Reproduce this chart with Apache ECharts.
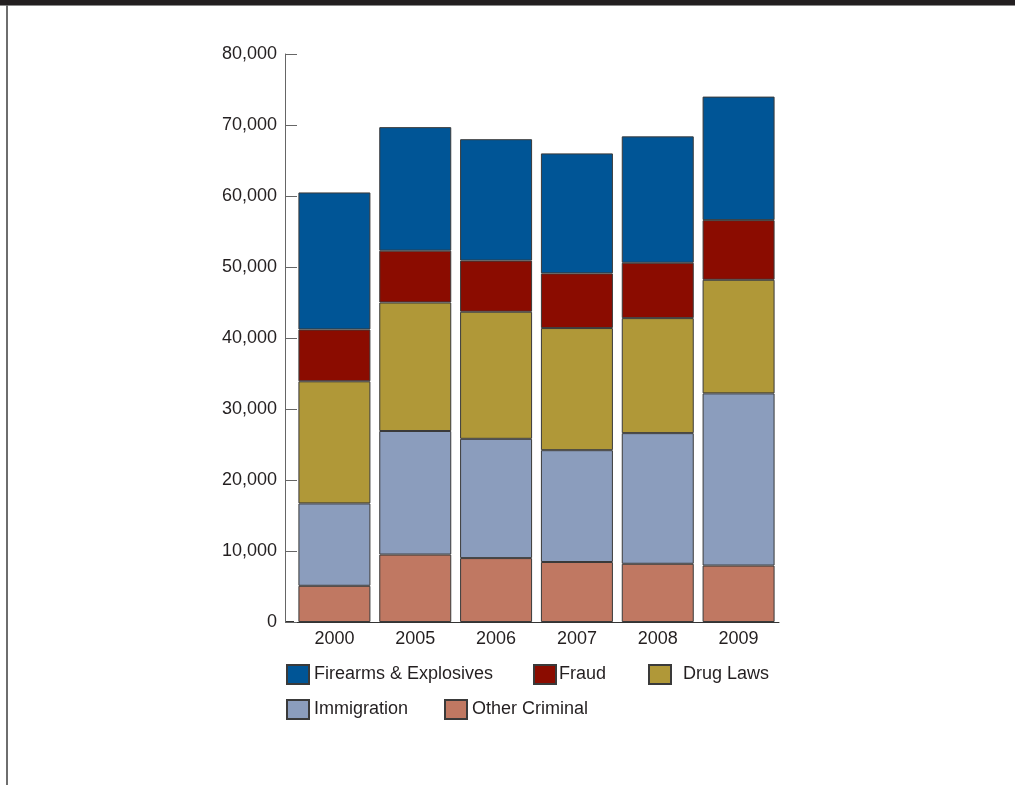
<!DOCTYPE html>
<html>
<head>
<meta charset="utf-8">
<script src="https://cdn.jsdelivr.net/npm/echarts@6/dist/echarts.min.js"></script>
<style>
html,body{margin:0;padding:0;background:#fff;}
#chart{width:1015px;height:785px;}
</style>
</head>
<body>
<div id="chart"></div>
<script>
var categories = ['2000', '2005', '2006', '2007', '2008', '2009'];
var otherCriminal = [5100, 9500, 9000, 8450, 8200, 7950];
var immigration = [11600, 17400, 16800, 15750, 18400, 24250];
var drugLaws = [17200, 18100, 17900, 17200, 16200, 16000];
var fraud = [7300, 7300, 7200, 7700, 7800, 8400];
var firearms = [19300, 17400, 17100, 16900, 17800, 17400];
var yTicks = { min: 0, max: 80000, interval: 10000 };

var FONT = '"Liberation Sans", Arial, Helvetica, sans-serif';
var TXT = '#231f20';
var BORDER = '#3a3a3a';

function mkSeries(name, data, color) {
  return {
    name: name, type: 'bar', stack: 'total', data: data,
    barWidth: 72,
    itemStyle: { color: color, borderColor: BORDER, borderWidth: 1 },
    emphasis: { disabled: true }
  };
}
function mkLegend(name, left, top, extraPad) {
  return {
    data: [name], left: left, top: top, padding: 0,
    itemWidth: 22, itemHeight: 19, icon: 'rect',
    textStyle: { fontFamily: FONT, fontSize: 18, color: TXT, padding: [5, 0, 0, extraPad || 0] },
    selectedMode: false
  };
}

var chart = echarts.init(document.getElementById('chart'));
chart.setOption({
  animation: false,
  backgroundColor: '#fff',
  grid: { left: 294, right: 1015 - 779, top: 54, bottom: 785 - 622, containLabel: false },
  xAxis: {
    type: 'category', data: categories,
    axisLine: { lineStyle: { color: '#333', width: 1 } },
    axisTick: { show: false },
    axisLabel: { fontFamily: FONT, fontSize: 18, color: TXT, margin: 8 }
  },
  yAxis: {
    type: 'value', min: yTicks.min, max: yTicks.max, interval: yTicks.interval,
    offset: 9,
    axisLine: { show: true, lineStyle: { color: '#666', width: 1 } },
    axisTick: { show: true, inside: true, length: 12, lineStyle: { color: '#666' } },
    splitLine: { show: false },
    axisLabel: {
      fontFamily: FONT, fontSize: 18, color: TXT, margin: 8, padding: [5, 0, 0, 0],
      formatter: function (v) { return String(v).replace(/\B(?=(\d{3})+(?!\d))/g, ','); }
    }
  },
  legend: [
    mkLegend('Firearms & Explosives', 286, 664),
    mkLegend('Fraud', 533, 664, -2),
    mkLegend('Drug Laws', 648, 664, 7),
    mkLegend('Immigration', 286, 699),
    mkLegend('Other Criminal', 444, 699)
  ],
  graphic: [
    { type: 'rect', shape: { x: 0, y: 0, width: 1015, height: 5 }, style: { fill: '#231f20' }, silent: true },
    { type: 'rect', shape: { x: 0, y: 5, width: 1015, height: 1 }, style: { fill: '#8a8a8a' }, silent: true },
    { type: 'rect', shape: { x: 6, y: 5, width: 2, height: 780 }, style: { fill: '#6e6e6e' }, silent: true },
    { type: 'line', shape: { x1: 285, y1: 621.5, x2: 294, y2: 621.5 }, style: { stroke: '#333', lineWidth: 1 }, silent: true }
  ],
  series: [
    mkSeries('Other Criminal', otherCriminal, '#c07862'),
    mkSeries('Immigration', immigration, '#8b9dbd'),
    mkSeries('Drug Laws', drugLaws, '#b09838'),
    mkSeries('Fraud', fraud, '#8b0c00'),
    mkSeries('Firearms & Explosives', firearms, '#005596')
  ]
});
</script>
</body>
</html>
